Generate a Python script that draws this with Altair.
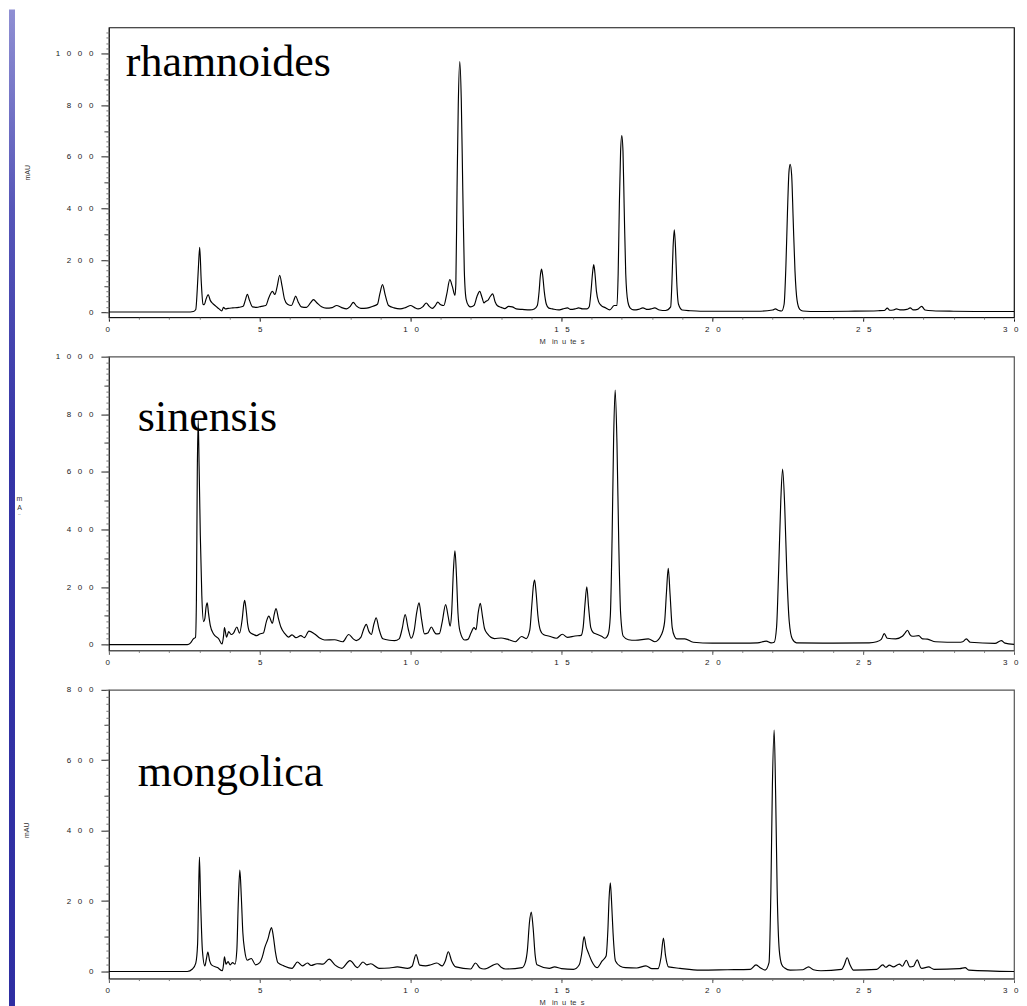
import altair as alt
import pandas as pd

# ---- chromatogram readings: (time in minutes, absorbance in mAU) ----
rhamnoides = [
    (0, 0), (2.6, 0), (2.8, 2), (2.88, 10), (2.93, 90), (2.97, 180), (3.01, 250), (3.06, 120), (3.12, 30),
    (3.16, 28), (3.22, 50), (3.29, 67), (3.36, 45), (3.45, 32), (3.55, 22), (3.65, 12), (3.74, 4), (3.8, 18),
    (3.86, 12), (3.95, 14), (4.1, 16), (4.3, 18), (4.45, 22), (4.52, 45), (4.59, 68), (4.66, 45), (4.76, 20),
    (4.9, 18), (5.05, 22), (5.2, 25), (5.3, 55), (5.42, 80), (5.5, 68), (5.58, 100), (5.66, 142), (5.74, 100),
    (5.82, 50), (5.92, 30), (6.05, 25), (6.13, 45), (6.19, 62), (6.27, 40), (6.38, 20), (6.55, 18), (6.68, 35),
    (6.78, 48), (6.9, 35), (7.05, 20), (7.2, 15), (7.4, 17), (7.55, 25), (7.7, 18), (7.88, 12), (8.0, 22),
    (8.1, 37), (8.2, 24), (8.35, 14), (8.55, 15), (8.75, 22), (8.9, 30), (8.98, 70), (9.07, 106), (9.16, 65),
    (9.27, 25), (9.45, 16), (9.65, 12), (9.85, 18), (10.0, 25), (10.12, 18), (10.25, 12), (10.4, 20),
    (10.52, 35), (10.62, 22), (10.72, 14), (10.82, 25), (10.9, 38), (11.0, 28), (11.1, 25), (11.2, 70),
    (11.3, 125), (11.38, 100), (11.47, 64), (11.5, 110), (11.54, 480), (11.58, 800), (11.63, 968), (11.68, 820),
    (11.73, 470), (11.78, 160), (11.84, 50), (11.92, 25), (11.99, 20), (12.1, 25), (12.2, 60), (12.29, 80),
    (12.37, 55), (12.43, 35), (12.5, 42), (12.56, 45), (12.64, 60), (12.72, 70), (12.8, 40), (12.88, 24),
    (13.0, 18), (13.12, 13), (13.25, 22), (13.37, 20), (13.5, 12), (13.7, 10), (13.96, 8), (14.1, 12),
    (14.2, 25), (14.26, 80), (14.3, 140), (14.34, 166), (14.38, 140), (14.43, 80), (14.5, 30), (14.58, 15),
    (14.7, 12), (14.9, 8), (15.05, 12), (15.2, 16), (15.3, 10), (15.45, 12), (15.57, 16), (15.7, 12),
    (15.85, 12), (15.92, 20), (15.98, 80), (16.03, 150), (16.07, 183), (16.11, 150), (16.16, 80), (16.23, 40),
    (16.32, 25), (16.45, 17), (16.6, 8), (16.75, 25), (16.84, 25), (16.88, 150), (16.92, 420), (16.96, 620),
    (17.0, 682), (17.04, 620), (17.08, 400), (17.13, 150), (17.2, 40), (17.28, 15), (17.4, 8), (17.55, 10),
    (17.7, 16), (17.85, 10), (17.97, 12), (18.09, 16), (18.25, 8), (18.45, 6), (18.62, 20), (18.66, 110),
    (18.7, 250), (18.74, 318), (18.78, 250), (18.82, 120), (18.88, 30), (19.0, 8), (19.27, 5), (19.6, 3),
    (20.5, 3), (21.5, 3), (22.0, 8), (22.09, 12), (22.2, 6), (22.3, 4), (22.38, 30), (22.44, 180), (22.49, 380),
    (22.54, 540), (22.58, 571), (22.63, 530), (22.68, 360), (22.74, 160), (22.81, 45), (22.9, 10), (23.0, 4),
    (23.5, 2), (24.5, 3), (25.5, 5), (25.7, 6), (25.8, 15), (25.88, 7), (26.0, 8), (26.1, 12), (26.25, 8),
    (26.45, 10), (26.56, 16), (26.66, 8), (26.8, 10), (26.94, 22), (27.05, 8), (27.3, 5), (28.0, 3),
    (29.0, 2), (30.0, 2),
]

sinensis = [
    (0, 0), (2.6, 0), (2.7, 5), (2.8, 20), (2.87, 25), (2.9, 150), (2.93, 600), (2.96, 780), (2.99, 620),
    (3.03, 380), (3.08, 170), (3.14, 80), (3.18, 90), (3.22, 130), (3.26, 145), (3.3, 110), (3.36, 67),
    (3.47, 37), (3.64, 20), (3.75, 2), (3.8, 30), (3.83, 59), (3.9, 26), (3.97, 45), (4.05, 35), (4.13, 40),
    (4.24, 61), (4.33, 40), (4.42, 90), (4.47, 140), (4.5, 154), (4.55, 120), (4.6, 70), (4.67, 43), (4.8, 35),
    (4.9, 31), (5.0, 37), (5.12, 40), (5.22, 80), (5.3, 99), (5.42, 74), (5.48, 105), (5.54, 125), (5.62, 90),
    (5.7, 61), (5.84, 37), (5.95, 26), (6.07, 34), (6.2, 24), (6.36, 31), (6.48, 24), (6.63, 47), (6.82, 37),
    (7.0, 22), (7.15, 16), (7.48, 17), (7.75, 10), (7.95, 35), (8.1, 20), (8.2, 14), (8.35, 25), (8.45, 55),
    (8.53, 70), (8.62, 45), (8.7, 35), (8.78, 70), (8.86, 93), (8.95, 55), (9.08, 20), (9.3, 15), (9.47, 14),
    (9.62, 20), (9.72, 55), (9.82, 104), (9.92, 55), (10.02, 22), (10.12, 50), (10.2, 110), (10.28, 145),
    (10.36, 90), (10.46, 37), (10.57, 40), (10.69, 61), (10.78, 45), (10.85, 37), (10.95, 38), (11.05, 80),
    (11.16, 139), (11.25, 95), (11.31, 64), (11.36, 110), (11.42, 260), (11.47, 326), (11.52, 240),
    (11.57, 110), (11.64, 45), (11.79, 16), (11.9, 18), (12.0, 40), (12.1, 59), (12.17, 52), (12.24, 110),
    (12.31, 143), (12.38, 100), (12.45, 56), (12.55, 37), (12.78, 21), (13.0, 23), (13.2, 19), (13.47, 10),
    (13.68, 28), (13.83, 21), (13.95, 50), (14.02, 140), (14.07, 205), (14.11, 224), (14.16, 180),
    (14.22, 100), (14.3, 50), (14.4, 35), (14.6, 29), (14.83, 22), (15.03, 36), (15.2, 25), (15.45, 30),
    (15.65, 32), (15.72, 60), (15.78, 140), (15.84, 201), (15.9, 130), (15.97, 60), (16.05, 42), (16.17, 36),
    (16.33, 29), (16.44, 22), (16.55, 36), (16.62, 100), (16.68, 380), (16.73, 720), (16.78, 884),
    (16.84, 700), (16.9, 350), (16.96, 110), (17.05, 29), (17.22, 17), (17.45, 15), (17.88, 20), (18.1, 10),
    (18.32, 36), (18.42, 80), (18.48, 180), (18.54, 265), (18.6, 175), (18.67, 60), (18.75, 28), (18.82, 20),
    (19.09, 20), (19.37, 8), (20.0, 5), (21.0, 5), (21.5, 6), (21.79, 12), (21.95, 6), (22.05, 8), (22.13, 60),
    (22.2, 260), (22.27, 500), (22.33, 610), (22.4, 480), (22.47, 250), (22.55, 80), (22.65, 20), (22.79, 6),
    (24.0, 5), (25.2, 6), (25.45, 10), (25.6, 18), (25.7, 38), (25.8, 22), (26.08, 20), (26.3, 29), (26.4, 42),
    (26.47, 50), (26.55, 35), (26.64, 29), (26.84, 31), (26.97, 20), (27.13, 19), (27.4, 10), (28.17, 8),
    (28.3, 10), (28.42, 20), (28.55, 8), (29.37, 4), (29.58, 14), (29.7, 5), (30.0, 1),
]

mongolica = [
    (0, 0), (2.6, 0), (2.77, 7), (2.88, 24), (2.94, 78), (2.97, 200), (3.0, 325), (3.04, 200), (3.1, 59),
    (3.18, 16), (3.23, 35), (3.28, 55), (3.34, 30), (3.4, 19), (3.6, 11), (3.76, 2), (3.8, 20), (3.83, 42),
    (3.88, 21), (3.95, 28), (4.02, 19), (4.1, 25), (4.18, 21), (4.24, 60), (4.29, 200), (4.34, 288),
    (4.39, 210), (4.44, 110), (4.5, 60), (4.59, 32), (4.72, 37), (4.86, 19), (5.0, 25), (5.08, 40), (5.17, 69),
    (5.28, 95), (5.34, 115), (5.39, 125), (5.45, 100), (5.52, 55), (5.6, 25), (5.8, 16), (6.07, 9), (6.25, 27),
    (6.41, 16), (6.58, 24), (6.7, 17), (6.9, 22), (7.1, 21), (7.3, 35), (7.5, 18), (7.72, 9), (7.99, 31),
    (8.24, 11), (8.42, 27), (8.55, 19), (8.68, 22), (8.95, 9), (9.3, 10), (9.56, 13), (9.9, 9), (10.05, 15),
    (10.18, 48), (10.3, 18), (10.5, 16), (10.67, 19), (10.87, 24), (11.05, 16), (11.15, 30), (11.25, 56),
    (11.36, 30), (11.5, 13), (11.99, 7), (12.15, 24), (12.3, 10), (12.43, 7), (12.87, 22), (13.0, 12),
    (13.15, 7), (13.7, 11), (13.8, 25), (13.87, 60), (13.94, 140), (14.0, 169), (14.06, 125), (14.13, 45),
    (14.19, 19), (14.6, 9), (14.77, 13), (15.0, 8), (15.4, 6), (15.59, 19), (15.67, 50), (15.75, 99),
    (15.82, 70), (15.9, 51), (16.0, 30), (16.18, 11), (16.35, 30), (16.48, 44), (16.54, 120), (16.58, 210),
    (16.62, 252), (16.66, 200), (16.71, 110), (16.79, 30), (16.95, 15), (17.12, 11), (17.5, 10), (17.8, 16),
    (18.0, 8), (18.2, 8), (18.3, 40), (18.38, 95), (18.45, 45), (18.55, 13), (18.93, 9), (19.6, 4), (20.5, 5),
    (21.26, 6), (21.45, 19), (21.6, 10), (21.75, 4), (21.88, 25), (21.94, 220), (21.99, 520), (22.05, 686),
    (22.1, 500), (22.15, 230), (22.22, 60), (22.3, 20), (22.4, 10), (22.58, 4), (23.0, 5), (23.19, 13),
    (23.35, 5), (23.6, 2), (24.29, 6), (24.38, 20), (24.47, 39), (24.56, 20), (24.68, 4), (25.45, 6),
    (25.65, 19), (25.75, 12), (25.87, 18), (26.0, 13), (26.2, 21), (26.3, 15), (26.43, 32), (26.55, 13),
    (26.67, 15), (26.79, 33), (26.9, 12), (26.95, 9), (27.17, 13), (27.35, 6), (28.2, 8), (28.38, 11),
    (28.5, 4), (30.0, 0),
]

# ---- tick values ----
x_major_ticks = [0, 5, 10, 15, 20, 25, 30]
x_minor_ticks = list(range(0, 31))
rham_y_major = [0, 200, 400, 600, 800, 1000]
rham_y_mid = [100, 300, 500, 700, 900]
rham_y_minor = list(range(0, 1100, 20))
sin_y_major = [0, 200, 400, 600, 800, 1000]
sin_y_mid = [100, 300, 500, 700, 900]
sin_y_minor = list(range(0, 1001, 20))
mon_y_major = [0, 200, 400, 600, 800]
mon_y_mid = [100, 300, 500, 700]
mon_y_minor = list(range(0, 801, 20))

SANS = "Liberation Sans"
SERIF = "Liberation Serif"
LBL = "join(split(datum.label, ''), '\u00a0\u00a0\u00a0')"
MINUTES = "M\u00a0\u00a0\u00a0in\u00a0\u00a0u\u00a0\u00a0te\u00a0\u00a0s"
W = 906


def panel(pairs, ydom, height, ymaj, ymid, ymin, ytitle_kw, xtitle_kw, frame,
          name, name_t, name_v, name_size, extra_layers=()):
    df = pd.DataFrame(pairs, columns=["t", "v"])
    xs = alt.Scale(domain=[0, 30], nice=False, zero=False)
    ys = alt.Scale(domain=ydom, nice=False, zero=False)

    y_major = alt.Axis(orient="left", values=ymaj, format="d", labelExpr=LBL, tickSize=8,
                       labelPadding=8, labelFont=SANS, labelFontSize=8, labelColor="#1a1a1a",
                       labelBaseline="middle", labelAlign="right", tickColor="#222",
                       domainColor="#222", grid=False, titleFont=SANS, titleFontSize=7,
                       titleFontWeight="normal", titleColor="#333", **ytitle_kw)
    x_major = alt.Axis(orient="bottom", values=x_major_ticks, format="d", labelExpr=LBL,
                       tickSize=4, labelPadding=8, labelFont=SANS, labelFontSize=8,
                       labelColor="#1a1a1a", labelBaseline="middle", labelFlush=True,
                       labelFlushOffset=4, tickColor=frame, domainColor=frame, grid=False,
                       titleFont=SANS, titleFontSize=7.5, titleFontWeight="normal",
                       titleColor="#333", **xtitle_kw)

    line = alt.Chart(df).mark_line(color="black", strokeWidth=1.15, interpolate="monotone").encode(
        x=alt.X("t:Q", scale=xs, axis=x_major),
        y=alt.Y("v:Q", scale=ys, axis=y_major),
    )
    minor_a = alt.Chart(df).mark_line(opacity=0).encode(
        x=alt.X("t:Q", scale=xs, axis=alt.Axis(orient="bottom", values=x_minor_ticks, labels=False,
                                                domain=False, tickSize=2, tickColor="#777",
                                                title=None, grid=False)),
        y=alt.Y("v:Q", scale=ys, axis=alt.Axis(orient="left", values=ymid, labels=False,
                                                domain=False, tickSize=5, tickColor="#444",
                                                title=None, grid=False)),
    )
    minor_b = alt.Chart(df).mark_line(opacity=0).encode(
        x=alt.X("t:Q", scale=xs, axis=None),
        y=alt.Y("v:Q", scale=ys, axis=alt.Axis(orient="left", values=ymin, labels=False,
                                                domain=False, tickSize=3, tickColor="#777",
                                                title=None, grid=False)),
    )
    label = alt.Chart(pd.DataFrame({"k": [0]})).mark_text(
        text=name, font=SERIF, fontSize=name_size, align="left", baseline="alphabetic", color="black"
    ).encode(
        x=alt.XDatum(name_t, axis=None),
        y=alt.YDatum(name_v, axis=None),
    )
    return alt.layer(*extra_layers, line, minor_a, minor_b, label).resolve_axis(
        x="independent", y="independent"
    ).properties(width=W, height=height,
                 view=alt.ViewBackground(stroke=frame, strokeWidth=1.2, fill="white"))


strip_gradient = {
    "gradient": "linear", "x1": 0, "x2": 0, "y1": 0, "y2": 1,
    "stops": [
        {"offset": 0.0, "color": "#8f8fd3"},
        {"offset": 0.2, "color": "#5656b8"},
        {"offset": 0.45, "color": "#3434a6"},
        {"offset": 1.0, "color": "#2e2ea2"},
    ],
}
strip = alt.Chart(pd.DataFrame({"k": [0]})).mark_rect(color=strip_gradient).encode(
    x=alt.value(-100), x2=alt.value(-94), y=alt.value(-681), y2=alt.value(317)
)

p1 = panel(rhamnoides, [-20, 1100], 290, rham_y_major, rham_y_mid, rham_y_minor,
           dict(title="mAU", titleAngle=270, titleX=-81.5, titleY=145, titleAlign="center",
                titleBaseline="middle"),
           dict(title=MINUTES, titleY=24, titleBaseline="middle"),
           "#111", "rhamnoides", 0.56, 914, 44)
p2 = panel(sinensis, [-20, 1000], 294, sin_y_major, sin_y_mid, sin_y_minor,
           dict(title=["m", "A", "\u00a8"], titleAngle=0, titleX=-90, titleY=138,
                titleAlign="center", titleBaseline="top", titleLineHeight=9),
           dict(title=None),
           "#555", "sinensis", 0.96, 741, 44)
p3 = panel(mongolica, [-20, 800], 289, mon_y_major, mon_y_mid, mon_y_minor,
           dict(title="mAU", titleAngle=270, titleX=-82.5, titleY=140, titleAlign="center",
                titleBaseline="middle"),
           dict(title=MINUTES, titleY=24, titleBaseline="middle"),
           "#555", "mongolica", 0.96, 528, 44, extra_layers=(strip,))

chart = alt.vconcat(p1, p2, p3, spacing=39.5, bounds="flush").properties(
    padding=0
).configure(font=SANS)

chart.save("out.html", embed_options={"renderer": "svg", "actions": False})
